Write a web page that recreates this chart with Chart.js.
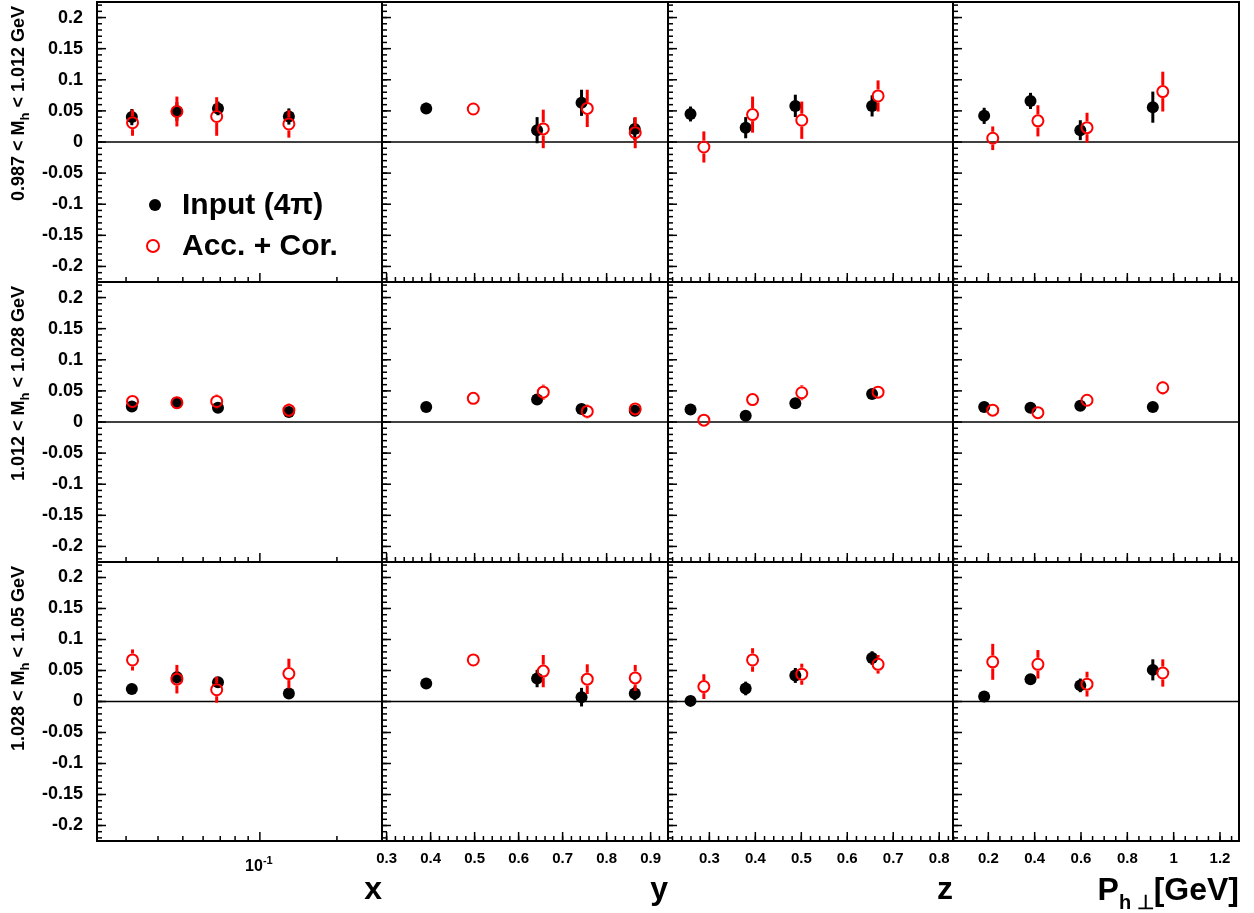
<!DOCTYPE html>
<html><head><meta charset="utf-8">
<script src="https://cdn.jsdelivr.net/npm/chart.js@4"></script>
<style>
html,body{margin:0;padding:0;background:#fff;}
#wrap{position:relative;width:1254px;height:913px;background:#fff;overflow:hidden;}
#wrap canvas{position:absolute;}
</style></head><body><div id="wrap"></div>
<script>
// ---------------- data ----------------
const seriesLabels = ['Input (4\u03c0)', 'Acc. + Cor.'];
const rowLow  = ['0.987', '1.012', '1.028'];
const rowHigh = ['1.012', '1.028', '1.05'];

// bin centres
const xBin_input = [0.0316, 0.0474, 0.0686, 0.1298];
const xBin_acc   = [0.0318, 0.0474, 0.0678, 0.1298];
const yBin_input = [0.390, 0.642, 0.743, 0.864];
const yBin_acc   = [0.497, 0.656, 0.756, 0.865];
const zBin_input = [0.259, 0.379, 0.487, 0.654];
const zBin_acc   = [0.288, 0.394, 0.501, 0.667];
const pBin_input = [0.182, 0.382, 0.597, 0.910];
const pBin_acc   = [0.219, 0.414, 0.626, 0.953];

// row 1 : 0.987 < Mh < 1.012
const in_M1_x = [0.040, 0.049, 0.054, 0.041], inErr_M1_x = [0.013, 0.015, 0.011, 0.013];
const acc_M1_x = [0.031, 0.049, 0.041, 0.029], accErr_M1_x = [0.021, 0.024, 0.031, 0.022];
const in_M1_y = [0.054, 0.019, 0.063, 0.021], inErr_M1_y = [0.009, 0.021, 0.021, 0.018];
const acc_M1_y = [0.053, 0.021, 0.054, 0.015], accErr_M1_y = [0.010, 0.031, 0.030, 0.025];
const in_M1_z = [0.045, 0.023, 0.058, 0.058], inErr_M1_z = [0.012, 0.017, 0.018, 0.017];
const acc_M1_z = [-0.008, 0.044, 0.035, 0.074], accErr_M1_z = [0.025, 0.029, 0.030, 0.025];
const in_M1_p = [0.042, 0.066, 0.019, 0.056], inErr_M1_p = [0.013, 0.013, 0.016, 0.025];
const acc_M1_p = [0.006, 0.034, 0.023, 0.081], accErr_M1_p = [0.019, 0.025, 0.024, 0.032];

// row 2 : 1.012 < Mh < 1.028
const in_M2_x = [0.025, 0.031, 0.023, 0.016], inErr_M2_x = [0.004, 0.003, 0.003, 0.004];
const acc_M2_x = [0.033, 0.031, 0.033, 0.019], accErr_M2_x = [0.005, 0.004, 0.011, 0.011];
const in_M2_y = [0.024, 0.036, 0.021, 0.018], inErr_M2_y = [0.003, 0.004, 0.003, 0.004];
const acc_M2_y = [0.038, 0.048, 0.017, 0.021], accErr_M2_y = [0.004, 0.012, 0.011, 0.008];
const in_M2_z = [0.020, 0.010, 0.030, 0.045], inErr_M2_z = [0.003, 0.003, 0.003, 0.003];
const acc_M2_z = [0.003, 0.036, 0.047, 0.048], accErr_M2_z = [0.008, 0.009, 0.012, 0.006];
const in_M2_p = [0.024, 0.023, 0.026, 0.024], inErr_M2_p = [0.003, 0.003, 0.003, 0.003];
const acc_M2_p = [0.019, 0.015, 0.035, 0.055], accErr_M2_p = [0.005, 0.005, 0.006, 0.011];

// row 3 : 1.028 < Mh < 1.05
const in_M3_x = [0.020, 0.039, 0.031, 0.013], inErr_M3_x = [0.005, 0.010, 0.007, 0.005];
const acc_M3_x = [0.067, 0.036, 0.019, 0.045], accErr_M3_x = [0.017, 0.023, 0.021, 0.024];
const in_M3_y = [0.029, 0.037, 0.007, 0.013], inErr_M3_y = [0.003, 0.014, 0.015, 0.011];
const acc_M3_y = [0.067, 0.049, 0.036, 0.038], accErr_M3_y = [0.009, 0.026, 0.024, 0.021];
const in_M3_z = [0.001, 0.021, 0.042, 0.070], inErr_M3_z = [0.003, 0.011, 0.012, 0.011];
const acc_M3_z = [0.024, 0.067, 0.044, 0.060], accErr_M3_z = [0.020, 0.019, 0.017, 0.015];
const in_M3_p = [0.008, 0.036, 0.026, 0.051], inErr_M3_p = [0.004, 0.006, 0.011, 0.017];
const acc_M3_p = [0.064, 0.060, 0.028, 0.046], accErr_M3_p = [0.029, 0.023, 0.020, 0.022];

// axes
const yRange = [-0.225, 0.225];
const yTickVals = [-0.2, -0.15, -0.1, -0.05, 0, 0.05, 0.1, 0.15, 0.2];
const yTickLabels = ['-0.2', '-0.15', '-0.1', '-0.05', '0', '0.05', '0.1', '0.15', '0.2'];
const xRange = [0.0231, 0.30], xTickVals = [0.1], xTickLabels = ['10\u207b\u00b9'];
const yVarRange = [0.2895, 0.9395], yVarTickVals = [0.3, 0.4, 0.5, 0.6, 0.7, 0.8, 0.9], yVarTickLabels = ['0.3','0.4','0.5','0.6','0.7','0.8','0.9'];
const zRange = [0.21, 0.83], zTickVals = [0.3, 0.4, 0.5, 0.6, 0.7, 0.8], zTickLabels = ['0.3','0.4','0.5','0.6','0.7','0.8'];
const pRange = [0.0475, 1.282], pTickVals = [0.2, 0.4, 0.6, 0.8, 1.0, 1.2], pTickLabels = ['0.2','0.4','0.6','0.8','1','1.2'];
const axisTitles = ['x', 'y', 'z', 'P'];

// ---------------- assembly ----------------
const binsIn  = [xBin_input, yBin_input, zBin_input, pBin_input];
const binsAcc = [xBin_acc, yBin_acc, zBin_acc, pBin_acc];
const valsIn = [[in_M1_x,in_M1_y,in_M1_z,in_M1_p],[in_M2_x,in_M2_y,in_M2_z,in_M2_p],[in_M3_x,in_M3_y,in_M3_z,in_M3_p]];
const errsIn = [[inErr_M1_x,inErr_M1_y,inErr_M1_z,inErr_M1_p],[inErr_M2_x,inErr_M2_y,inErr_M2_z,inErr_M2_p],[inErr_M3_x,inErr_M3_y,inErr_M3_z,inErr_M3_p]];
const valsAcc = [[acc_M1_x,acc_M1_y,acc_M1_z,acc_M1_p],[acc_M2_x,acc_M2_y,acc_M2_z,acc_M2_p],[acc_M3_x,acc_M3_y,acc_M3_z,acc_M3_p]];
const errsAcc = [[accErr_M1_x,accErr_M1_y,accErr_M1_z,accErr_M1_p],[accErr_M2_x,accErr_M2_y,accErr_M2_z,accErr_M2_p],[accErr_M3_x,accErr_M3_y,accErr_M3_z,accErr_M3_p]];
const colRanges = [xRange, yVarRange, zRange, pRange];
const colTickVals = [xTickVals, yVarTickVals, zTickVals, pTickVals];
const colTickLabels = [xTickLabels, yVarTickLabels, zTickLabels, pTickLabels];

// tick mark positions (axis decoration)
function linTicks(lo, hi, step) { const out = []; const n0 = Math.ceil(lo/step - 1e-9), n1 = Math.floor(hi/step + 1e-9); for (let n = n0; n <= n1; n++) out.push(+(n*step).toFixed(6)); return out; }
const colMajor = [[0.1], linTicks(0.2895,0.9395,0.1), linTicks(0.21,0.83,0.1), linTicks(0.0475,1.282,0.2)];
const colMinor = [[0.03,0.04,0.05,0.06,0.07,0.08,0.09,0.2,0.3], linTicks(0.2895,0.9395,0.02), linTicks(0.21,0.83,0.02), linTicks(0.0475,1.282,0.05)];
const yMajorT = linTicks(-0.225,0.225,0.05), yMinorT = linTicks(-0.225,0.225,0.01);

const FONT = '"Liberation Sans", Arial, Helvetica, sans-serif';
Chart.defaults.font.family = FONT;
Chart.defaults.color = '#000';

const frameX = [97, 382, 668, 953, 1239];
const frameY = [2, 282, 562, 841];
const PAGE_H = 913;

function line(ctx, x1, y1, x2, y2) { ctx.beginPath(); ctx.moveTo(x1, y1); ctx.lineTo(x2, y2); ctx.stroke(); }

const rootPlugin = {
  id: 'rootStyle',
  beforeDatasetsDraw(chart) {
    const {ctx, chartArea: a, scales: {y}} = chart;
    const py = y.getPixelForValue(0);
    ctx.save(); ctx.strokeStyle = '#000'; ctx.lineWidth = 1.5; line(ctx, a.left, py, a.right, py); ctx.restore();
  },
  beforeDatasetDraw(chart, args) {
    const ds = chart.data.datasets[args.index];
    if (!ds.errors) return;
    const {ctx, scales: {y}} = chart;
    const r = ds.open ? ds.pointRadius + 1 : 0;
    ctx.save(); ctx.strokeStyle = ds.borderColor; ctx.lineWidth = 3;
    args.meta.data.forEach((pt, i) => {
      const v = ds.data[i].y, e = ds.errors[i];
      const yt = y.getPixelForValue(v + e), yb = y.getPixelForValue(v - e);
      if (r > 0) {
        if (pt.y - r > yt) line(ctx, pt.x, yt, pt.x, pt.y - r);
        if (pt.y + r < yb) line(ctx, pt.x, pt.y + r, pt.x, yb);
      } else line(ctx, pt.x, yt, pt.x, yb);
    });
    ctx.restore();
  },
  afterDraw(chart, args, opts) {
    const {ctx, chartArea: a, scales: {x, y}} = chart;
    ctx.save(); ctx.strokeStyle = '#000';
    ctx.lineWidth = 1.5;
    yMajorT.forEach(v => { const py = y.getPixelForValue(v); line(ctx, a.left, py, a.left + 9, py); });
    yMinorT.forEach(v => { const py = y.getPixelForValue(v); line(ctx, a.left, py, a.left + 5, py); });
    opts.major.forEach(v => { const px = x.getPixelForValue(v); if (px >= a.left && px <= a.right) line(ctx, px, a.bottom, px, a.bottom - 9); });
    opts.minor.forEach(v => { const px = x.getPixelForValue(v); if (px >= a.left && px <= a.right) line(ctx, px, a.bottom, px, a.bottom - 5); });
    ctx.lineWidth = 2;
    ctx.strokeRect(a.left, a.top, a.right - a.left, a.bottom - a.top);
    ctx.fillStyle = '#000';
    // row title (rotated, with subscript)
    if (opts.rowTitle) {
      const parts = opts.rowTitle;
      ctx.save();
      ctx.translate(24, a.top + 4);
      ctx.rotate(-Math.PI / 2);
      ctx.textAlign = 'left'; ctx.textBaseline = 'alphabetic';
      let total = 0;
      parts.forEach(p => { ctx.font = 'bold ' + (p.sub ? 13 : 18) + 'px ' + FONT; total += ctx.measureText(p.t).width; });
      let xx = -total;
      parts.forEach(p => { ctx.font = 'bold ' + (p.sub ? 13 : 18) + 'px ' + FONT; ctx.fillText(p.t, xx, p.sub ? 5 : 0); xx += ctx.measureText(p.t).width; });
      ctx.restore();
    }
    // log-axis label 10^-1 (superscript)
    if (opts.logLabel) {
      const px = x.getPixelForValue(xTickVals[0]);
      ctx.textBaseline = 'alphabetic'; ctx.textAlign = 'left';
      ctx.font = 'bold 16px ' + FONT;
      const w1 = ctx.measureText('10').width;
      ctx.font = 'bold 11px ' + FONT;
      const w2 = ctx.measureText('-1').width;
      const x0 = px - (w1 + w2) / 2 - 1;
      ctx.font = 'bold 16px ' + FONT; ctx.fillText('10', x0, a.bottom + 30);
      ctx.font = 'bold 11px ' + FONT; ctx.fillText('-1', x0 + w1, a.bottom + 23);
    }
    // P_h-perp axis title
    if (opts.pTitle) {
      const parts = [{t: 'P', s: 32, dy: 0}, {t: 'h \u22a5', s: 20, dy: 9}, {t: '[GeV]', s: 32, dy: 0}];
      ctx.textAlign = 'left'; ctx.textBaseline = 'alphabetic';
      let total = 0;
      parts.forEach(p => { ctx.font = 'bold ' + p.s + 'px ' + FONT; total += ctx.measureText(p.t).width; });
      let xx = a.right - total; const base = a.bottom + 59;
      parts.forEach(p => { ctx.font = 'bold ' + p.s + 'px ' + FONT; ctx.fillText(p.t, xx, base + p.dy); xx += ctx.measureText(p.t).width; });
    }
    // legend
    if (opts.legend) {
      const dss = chart.data.datasets;
      const rows = [{ds: dss[0], cx: 155, cy: 205}, {ds: dss[1], cx: 153, cy: 246}];
      ctx.font = 'bold 30px ' + FONT; ctx.textAlign = 'left'; ctx.textBaseline = 'middle';
      rows.forEach(rw => {
        ctx.beginPath(); ctx.arc(rw.cx, rw.cy, 6, 0, Math.PI * 2);
        if (rw.ds.open) { ctx.lineWidth = 2; ctx.strokeStyle = rw.ds.borderColor; ctx.stroke(); }
        else { ctx.fillStyle = rw.ds.backgroundColor; ctx.fill(); }
        ctx.fillStyle = '#000';
        ctx.fillText(rw.ds.label, 182, rw.cy + 1);
      });
    }
    ctx.restore();
  }
};

const wrap = document.getElementById('wrap');

function makePanel(r, c) {
  const fL = frameX[c], fR = frameX[c + 1], fT = frameY[r], fB = frameY[r + 1];
  const bottomRow = r === 2;
  const padL = c === 0 ? fL : (bottomRow ? 20 : 0), padT = 2, padR = 2;
  const padB = bottomRow ? PAGE_H - fB : 2;
  const w = padL + (fR - fL) + padR, h = padT + (fB - fT) + padB;
  const cv = document.createElement('canvas');
  cv.width = w; cv.height = h;
  cv.style.width = w + 'px'; cv.style.height = h + 'px';
  cv.style.left = (fL - padL) + 'px'; cv.style.top = (fT - padT) + 'px';
  wrap.appendChild(cv);
  new Chart(cv, {
    type: 'scatter',
    data: { datasets: [
      { label: seriesLabels[0], data: binsIn[c].map((xv, i) => ({x: xv, y: valsIn[r][c][i]})), errors: errsIn[r][c],
        backgroundColor: '#000', borderColor: '#000', borderWidth: 0, pointRadius: 6, pointHoverRadius: 6, open: false, order: 2 },
      { label: seriesLabels[1], data: binsAcc[c].map((xv, i) => ({x: xv, y: valsAcc[r][c][i]})), errors: errsAcc[r][c],
        backgroundColor: 'rgba(0,0,0,0)', borderColor: '#ff0000', borderWidth: 2, pointRadius: 5.5, pointHoverRadius: 5.5, open: true, order: 1 }
    ]},
    options: {
      responsive: false, animation: false, devicePixelRatio: 1, events: [],
      layout: { autoPadding: false, padding: { left: 0, top: padT, right: padR, bottom: bottomRow ? 0 : padB } },
      plugins: {
        legend: { display: false }, tooltip: { enabled: false },
        rootStyle: {
          major: colMajor[c], minor: colMinor[c],
          rowTitle: c === 0 ? [{t: rowLow[r] + ' < M'}, {t: 'h', sub: true}, {t: ' < ' + rowHigh[r] + ' GeV'}] : null,
          pTitle: bottomRow && c === 3,
          logLabel: bottomRow && c === 0,
          legend: r === 0 && c === 0
        }
      },
      scales: {
        x: {
          type: c === 0 ? 'logarithmic' : 'linear',
          min: colRanges[c][0], max: colRanges[c][1],
          grid: { display: false }, border: { display: false },
          ticks: { display: bottomRow && c > 0, autoSkip: false, maxRotation: 0, minRotation: 0,
                   padding: 1, font: { size: 15, weight: 'bold' }, color: '#000',
                   callback: (v, i) => colTickLabels[c][i] },
          afterBuildTicks: s => { s.ticks = colTickVals[c].map(v => ({value: v})); },
          afterFit: s => { s.height = bottomRow ? padB : 0; s.paddingLeft = 0; s.paddingRight = 0; s.paddingTop = 0; s.paddingBottom = 0; },
          title: { display: bottomRow && c < 3, text: axisTitles[c], align: 'end', color: '#000',
                   font: { size: 32, weight: 'bold' }, padding: { top: 0, bottom: 4 } }
        },
        y: {
          min: yRange[0], max: yRange[1],
          grid: { display: false }, border: { display: false },
          ticks: { display: c === 0, autoSkip: false, padding: 6, font: { size: 18, weight: 'bold' }, color: '#000',
                   callback: (v, i) => yTickLabels[i] },
          afterBuildTicks: s => { s.ticks = yTickVals.map(v => ({value: v})); },
          afterFit: s => { s.width = padL; s.paddingTop = 0; s.paddingBottom = 0; s.paddingLeft = 0; s.paddingRight = 0; }
        }
      }
    },
    plugins: [rootPlugin]
  });
}

for (let r = 0; r < 3; r++) for (let c = 0; c < 4; c++) makePanel(r, c);
</script>
</body></html>
